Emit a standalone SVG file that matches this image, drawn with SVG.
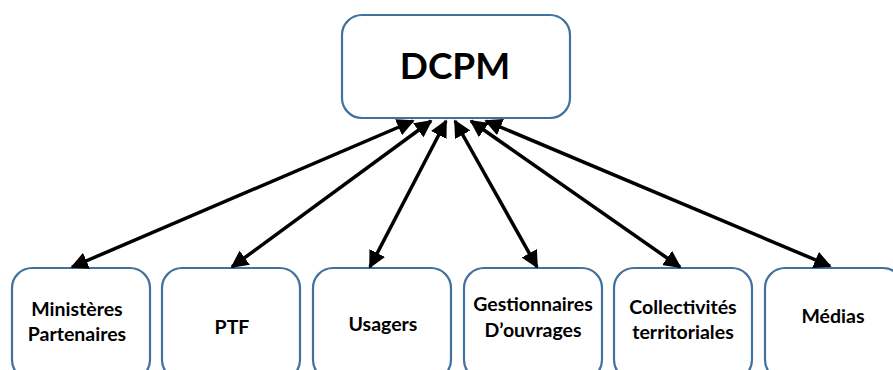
<svg xmlns="http://www.w3.org/2000/svg" width="893" height="370" viewBox="0 0 893 370">
<style>
.box{fill:#fff;stroke:#41719c;stroke-width:2.2}
.t{font-family:Lato,"Liberation Sans",sans-serif;font-weight:bold;font-size:19.5px;fill:#000;text-anchor:middle}
.c{stroke:#000;stroke-width:3.5;fill:none;marker-start:url(#a);marker-end:url(#a)}
</style>
<defs>
<marker id="a" viewBox="0 0 10 10" refX="9" refY="5" markerWidth="5" markerHeight="5" orient="auto-start-reverse" markerUnits="strokeWidth">
<path d="M0,0L10,5L0,10z" fill="#000"/>
</marker>
</defs>
<rect width="893" height="370" fill="#fff"/>
<g id="dcpm"><rect class="box" x="342" y="15" width="228" height="103" rx="20"/><text class="t" x="455" y="79" style="font-size:37px">DCPM</text></g>
<g id="ministeres"><rect class="box" x="12" y="268" width="138" height="112" rx="20"/><text class="t" x="77" y="316">Ministères</text><text class="t" x="77" y="341">Partenaires</text></g>
<g id="ptf"><rect class="box" x="162" y="268" width="138" height="112" rx="20"/><text class="t" x="232" y="334">PTF</text></g>
<g id="usagers"><rect class="box" x="313" y="268" width="138" height="112" rx="20"/><text class="t" x="383" y="331">Usagers</text></g>
<g id="gestionnaires"><rect class="box" x="464" y="268" width="138" height="112" rx="20"/><text class="t" x="533" y="311">Gestionnaires</text><text class="t" x="533" y="337">D’ouvrages</text></g>
<g id="collectivites"><rect class="box" x="614" y="268" width="138" height="112" rx="20"/><text class="t" x="683" y="314">Collectivités</text><text class="t" x="683" y="339">territoriales</text></g>
<g id="medias"><rect class="box" x="765" y="268" width="138" height="112" rx="20"/><text class="t" x="833" y="323">Médias</text></g>
<g id="connectors">
<line class="c" x1="413" y1="121" x2="72" y2="267"/>
<line class="c" x1="431" y1="121" x2="232" y2="267"/>
<line class="c" x1="446" y1="121" x2="370" y2="267"/>
<line class="c" x1="455" y1="121" x2="537" y2="267"/>
<line class="c" x1="471" y1="121" x2="680" y2="267"/>
<line class="c" x1="486" y1="121" x2="830" y2="266"/>
</g>
</svg>
